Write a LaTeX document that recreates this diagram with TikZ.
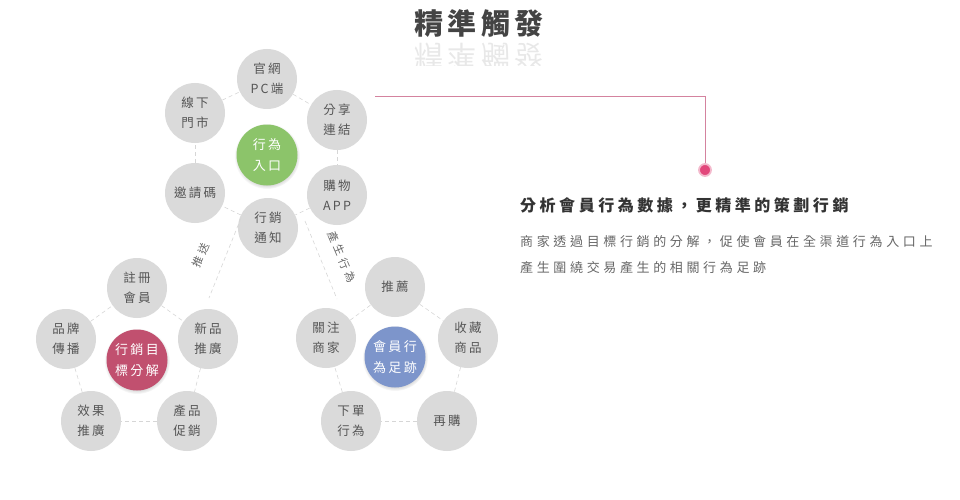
\documentclass[tikz,border=0pt]{standalone}
\usepackage{fontspec}
\setmainfont{Noto Sans CJK TC}
\newfontfamily\circfont[LetterSpace=18]{Noto Sans CJK TC}
\newfontfamily\labelfont[LetterSpace=32]{Noto Sans CJK TC}
\newfontfamily\headfont[LetterSpace=22]{Noto Sans CJK TC}
\newfontfamily\bodyfont[LetterSpace=28]{Noto Sans CJK TC}
\newfontfamily\titlefont[LetterSpace=14]{Noto Sans CJK TC}
\usetikzlibrary{shadows}
\definecolor{satgray}{HTML}{DADADA}
\definecolor{sattext}{HTML}{555555}
\definecolor{ringgray}{HTML}{D6D6D6}
\definecolor{hubgreen}{HTML}{8CC46A}
\definecolor{hubred}{HTML}{C1506F}
\definecolor{hubblue}{HTML}{7D95CB}
\definecolor{pinkline}{HTML}{D4839F}
\definecolor{pinkdot}{HTML}{E2477B}
\definecolor{pinklight}{HTML}{F3B9CC}
\definecolor{titlegray}{HTML}{444444}
\definecolor{headgray}{HTML}{333333}
\definecolor{bodygray}{HTML}{666666}
\definecolor{labelgray}{HTML}{666666}
\definecolor{reflgray}{HTML}{E8E8E8}
\begin{document}
\begin{tikzpicture}[x=1pt,y=-1pt,
  sat/.style={circle,fill=satgray,minimum size=60pt,inner sep=0pt,text=sattext,
    font=\circfont\fontsize{12.5}{20}\selectfont,align=center},
  hub/.style={circle,minimum size=61pt,inner sep=0pt,text=white,
    font=\circfont\fontsize{13}{21}\selectfont,align=center,
    circular drop shadow={shadow scale=1.08,shadow xshift=0pt,shadow yshift=-1pt,opacity=0.35}},
  ring/.style={draw=ringgray,dash pattern=on 4pt off 3pt,line width=0.6pt},
  link/.style={draw=ringgray,dash pattern=on 4pt off 3pt,line width=0.6pt},
  linklabel/.style={text=labelgray,font=\labelfont\fontsize{11}{12}\selectfont,inner sep=0pt},
]
\useasboundingbox (0,0) rectangle (960,500);

% title
\node[text=titlegray,font=\titlefont\fontsize{29}{30}\selectfont\bfseries] (title) at (479,24) {精準觸發};
\begin{scope}
\clip (380,41) rectangle (580,66);
\node[text=reflgray,yscale=-1,transform shape,font=\titlefont\fontsize{29}{30}\selectfont] (titlerefl) at (479,56) {精準觸發};
\end{scope}

% top cluster
\node[sat] (guan) at (267,79) {官網\\PC端};
\node[sat] (fen) at (337,120) {分享\\連結};
\node[sat] (gou) at (337,195) {購物\\APP};
\node[sat] (tong) at (268,228) {行銷\\通知};
\node[sat] (yao) at (195,193) {邀請碼};
\node[sat] (xian) at (195,113) {線下\\門市};
\draw[ring] (guan) -- (fen);
\draw[ring] (fen) -- (gou);
\draw[ring] (gou) -- (tong);
\draw[ring] (tong) -- (yao);
\draw[ring] (yao) -- (xian);
\draw[ring] (xian) -- (guan);
\node[hub,fill=hubgreen] (hubA) at (267,155) {行為\\入口};

% left cluster
\node[sat] (zhu) at (137,288) {註冊\\會員};
\node[sat] (xin) at (208,339) {新品\\推廣};
\node[sat] (chan) at (187,421) {產品\\促銷};
\node[sat] (xiao) at (91,421) {效果\\推廣};
\node[sat] (pin) at (66,339) {品牌\\傳播};
\draw[ring] (zhu) -- (xin);
\draw[ring] (xin) -- (chan);
\draw[ring] (chan) -- (xiao);
\draw[ring] (xiao) -- (pin);
\draw[ring] (pin) -- (zhu);
\node[hub,fill=hubred] (hubB) at (137,360) {行銷目\\標分解};

% right cluster
\node[sat] (tui) at (395,287) {推薦};
\node[sat] (shou) at (468,338) {收藏\\商品};
\node[sat] (zai) at (447,421) {再購};
\node[sat] (xia) at (351,421) {下單\\行為};
\node[sat] (guanz) at (326,338) {關注\\商家};
\draw[ring] (tui) -- (shou);
\draw[ring] (shou) -- (zai);
\draw[ring] (zai) -- (xia);
\draw[ring] (xia) -- (guanz);
\draw[ring] (guanz) -- (tui);
\node[hub,fill=hubblue] (hubC) at (395,357) {會員行\\為足跡};

% links between clusters
\coordinate (p1) at (241,218);
\coordinate (p2) at (209,298);
\draw[link] (p1) -- (p2);
\node[linklabel,rotate=67] (tuisong) at (201,255) {推送};
\coordinate (q1) at (305,221);
\coordinate (q2) at (337,299);
\draw[link] (q1) -- (q2);
\node[linklabel,rotate=-67] (chansheng) at (342,257) {產生行為};

% pink connector
\coordinate (ps) at (375,97);
\coordinate (pc) at (705,97);
\node[circle,fill=pinkdot,draw=pinklight,line width=1.8pt,minimum size=12pt,inner sep=0pt] (dot) at (705,170) {};
\draw[pinkline,line width=1pt] (ps) -- (pc) -- (dot);

% text block
\node[anchor=west,inner sep=0pt,text=headgray,font=\headfont\fontsize{16}{18}\selectfont\bfseries] (head) at (520,205) {分析會員行為數據，更精準的策劃行銷};
\node[anchor=west,inner sep=0pt,text=bodygray,font=\bodyfont\fontsize{13}{15}\selectfont] (body1) at (520,242) {商家透過目標行銷的分解，促使會員在全渠道行為入口上};
\node[anchor=west,inner sep=0pt,text=bodygray,font=\bodyfont\fontsize{13}{15}\selectfont] (body2) at (520,268) {產生圍繞交易產生的相關行為足跡};
\end{tikzpicture}
\end{document}
